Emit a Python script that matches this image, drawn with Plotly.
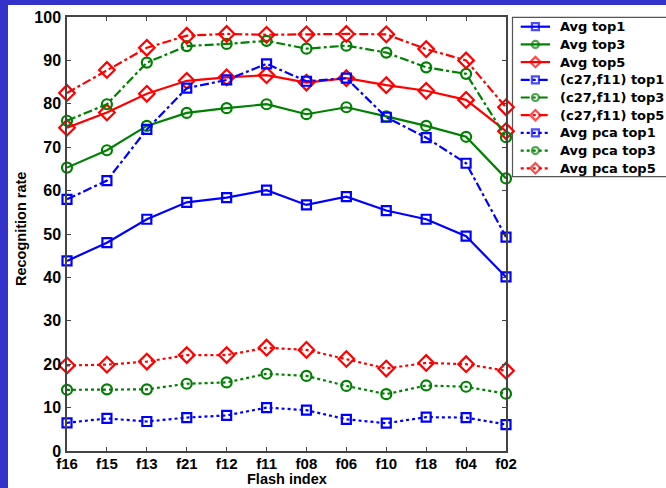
import plotly.graph_objects as go

flashes = ["f16", "f15", "f13", "f21", "f12", "f11", "f08", "f06", "f10", "f18", "f04", "f02"]

avg_top1 = [43.8, 48.0, 53.4, 57.3, 58.4, 60.1, 56.7, 58.6, 55.4, 53.4, 49.5, 40.1]
avg_top3 = [65.3, 69.3, 74.9, 77.9, 79.0, 79.9, 77.6, 79.2, 77.1, 74.9, 72.4, 62.8]
avg_top5 = [74.5, 78.0, 82.3, 85.3, 86.1, 86.6, 84.9, 85.9, 84.3, 83.0, 80.9, 73.7]
c27_top1 = [58.0, 62.3, 74.1, 83.6, 85.5, 89.2, 85.2, 85.9, 76.9, 72.2, 66.3, 49.3]
c27_top3 = [76.1, 79.9, 89.5, 93.3, 93.8, 94.5, 92.7, 93.4, 91.8, 88.4, 86.9, 72.3]
c27_top5 = [82.5, 87.8, 92.9, 95.7, 96.1, 95.9, 96.0, 96.1, 96.0, 92.6, 90.0, 79.2]
pca_top1 = [6.5, 7.5, 6.8, 7.7, 8.2, 10.0, 9.4, 7.3, 6.4, 7.8, 7.7, 6.1]
pca_top3 = [14.1, 14.2, 14.2, 15.5, 15.8, 17.8, 17.3, 15.0, 13.1, 15.1, 14.8, 13.2]
pca_top5 = [19.7, 19.9, 20.6, 22.1, 22.1, 23.8, 23.3, 21.2, 19.0, 20.3, 20.0, 18.5]

series_names = ["Avg top1", "Avg top3", "Avg top5",
                "(c27,f11) top1", "(c27,f11) top3", "(c27,f11) top5",
                "Avg pca top1", "Avg pca top3", "Avg pca top5"]
series_values = [avg_top1, avg_top3, avg_top5, c27_top1, c27_top3, c27_top5,
                 pca_top1, pca_top3, pca_top5]

BLUE, GREEN, RED = "#0000ff", "#008000", "#ff0000"
colors = [BLUE, GREEN, RED] * 3
symbols = ["square-open", "circle-open", "diamond-open"] * 3
sizes = [9, 10, 12] * 3
leg_sizes = [7, 7, 8] * 3
dashes = ["solid"] * 3 + ["dashdot"] * 3 + ["dot"] * 3

# ---- layout geometry (pixels) ----
W, H = 666, 488
ML, MT, MB = 67, 17, 37
PW = W - ML            # full area width (right margin 0)
PH = H - MT - MB       # 434
MAIN_RIGHT = 506       # right edge of main plot in px
main_frac = (MAIN_RIGHT - ML) / PW

# legend geometry
LEG_TOP, LEG_STEP = 26.7, 17.7
leg_y_top = (MT - LEG_TOP) / LEG_STEP
leg_y_bot = (MT + PH - LEG_TOP) / LEG_STEP
LEG_BOX_L, LEG_BOX_T, LEG_BOX_B = 512.5, 17.3, 176.7
SAMPLE_X = [520.7, 535.4, 550.0]
TEXT_X = 557.5

FONT = "Liberation Sans, Arial, sans-serif"

fig = go.Figure()
for name, vals, c, s, sz, d in zip(series_names, series_values, colors, symbols, sizes, dashes):
    fig.add_trace(go.Scatter(
        x=flashes, y=vals, name=name, mode="lines+markers",
        line=dict(color=c, width=2.2, dash=d),
        marker=dict(symbol=s, size=sz, color=c, line=dict(color=c, width=2.2)),
        cliponaxis=False, showlegend=False,
    ))

# custom legend keys (legend layout only)
annotations = []
for i, (name, c, s, lsz, d) in enumerate(zip(series_names, colors, symbols, leg_sizes, dashes)):
    fig.add_trace(go.Scatter(
        x=SAMPLE_X, y=[i, i, i], xaxis="x2", yaxis="y2", mode="lines+markers",
        line=dict(color=c, width=2.2, dash=d),
        marker=dict(symbol=s, size=[0, lsz, 0], color=c, line=dict(color=c, width=2.2)),
        cliponaxis=False, showlegend=False, hoverinfo="skip",
    ))
    annotations.append(dict(
        x=TEXT_X, y=i, xref="x2", yref="y2", text=name, showarrow=False,
        xanchor="left", yanchor="middle",
        font=dict(family="DejaVu Sans, sans-serif", size=13, color="black", weight="bold"),
    ))

# axis titles
annotations.append(dict(
    x=main_frac / 2, y=-(479 - (MT + PH)) / PH, xref="paper", yref="paper",
    text="Flash index", showarrow=False, xanchor="center", yanchor="middle",
    font=dict(family=FONT, size=14.5, color="black", weight="bold"),
))
annotations.append(dict(
    x=(21 - ML) / PW, y=1 - (229 - MT) / PH, xref="paper", yref="paper",
    text="Recognition rate", showarrow=False, textangle=-90,
    xanchor="center", yanchor="middle",
    font=dict(family=FONT, size=14.5, color="black", weight="bold"),
))

axis_common = dict(
    showline=True, linecolor="#444444", linewidth=1.5, mirror="ticks",
    ticks="inside", ticklen=4, tickcolor="#444444", tickwidth=1,
    showgrid=False, zeroline=False, automargin=False,
)

fig.update_layout(
    width=W, height=H,
    margin=dict(l=ML, r=0, t=MT, b=MB),
    paper_bgcolor="white", plot_bgcolor="white",
    xaxis=dict(type="category", range=[0, 11], domain=[0, main_frac], **axis_common,
               tickfont=dict(family=FONT, size=15, color="black", weight="bold"),
               ticklabelstandoff=-2),
    yaxis=dict(range=[0, 100], dtick=10, **axis_common, ticklabelstandoff=1,
               tickfont=dict(family=FONT, size=16, color="black", weight="bold")),
    xaxis2=dict(domain=[main_frac, 1], range=[MAIN_RIGHT, W], visible=False,
                anchor="y2"),
    yaxis2=dict(domain=[0, 1], range=[leg_y_bot, leg_y_top], visible=False,
                anchor="x2"),
    showlegend=False,
    annotations=annotations,
    shapes=[
        dict(type="rect", xref="paper", yref="paper", x0=-0.3, x1=(8 - ML) / PW,
             y0=-0.3, y1=1.3, fillcolor="#3333cc", line=dict(width=0), layer="below"),
        dict(type="rect", xref="paper", yref="paper", x0=-0.3, x1=1.3,
             y0=1 + (MT - 5) / PH, y1=1.3, fillcolor="#3333cc", line=dict(width=0), layer="below"),
        dict(type="rect", xref="paper", yref="paper",
             x0=(LEG_BOX_L - ML) / PW, x1=1.05,
             y0=1 - (LEG_BOX_B - MT) / PH, y1=1 - (LEG_BOX_T - MT) / PH,
             fillcolor="rgba(0,0,0,0)", line=dict(color="#555555", width=1.2), layer="below"),
    ],
)

fig.write_html("out.html")
